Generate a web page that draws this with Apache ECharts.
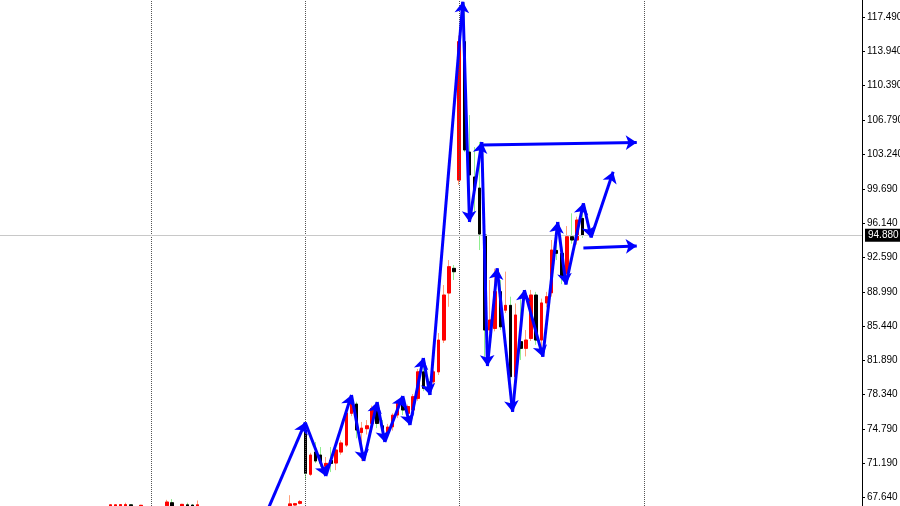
<!DOCTYPE html>
<html>
<head>
<meta charset="utf-8">
<title>ZigZag</title>
<script src="https://cdn.jsdelivr.net/npm/echarts@6.0.0/dist/echarts.min.js"></script>
<style>
  html, body { margin: 0; padding: 0; background: #fff; }
  #chartContainer { width: 900px; height: 506px; }
</style>
</head>
<body>
<div id="chartContainer"></div>
<script>
// bar slots on the x axis (one per candle position)
var barCount = 168;

// candles: slot index and OHLC
var barIndex = [21, 22, 23, 24, 25, 27, 32, 33, 35, 36, 37, 38,
  56, 57, 58, 59, 60, 61, 62, 63, 64, 65, 66, 67, 68, 69, 70, 71, 72, 73, 74, 75,
  76, 77, 78, 79, 80, 81, 82, 83, 84, 85, 86, 87, 88, 89, 90, 91, 92, 93, 94, 95,
  96, 97, 98, 99, 100, 101, 102, 103, 104, 105, 106, 107, 108, 109, 110, 111, 112, 113];
var opens = [66.70, 66.60, 66.70, 66.70, 66.90, 66.60, 66.80, 67.12, 66.60, 66.90, 66.88, 66.60,
  66.70, 66.88, 67.06, 74.66, 70.07, 72.38, 72.07, 70.90, 71.50, 71.24, 72.38, 73.10, 76.40, 77.36, 74.40, 74.80, 75.35, 77.07, 75.10, 74.30,
  75.00, 76.22, 77.43, 76.40, 76.74, 77.95, 80.70, 79.67, 79.67, 80.70, 84.00, 88.88, 91.44, 100.60, 114.96, 103.51, 100.92, 99.77, 94.90, 85.04,
  85.20, 89.02, 87.10, 87.60, 80.20, 83.83, 83.14, 84.17, 88.67, 84.00, 87.85, 88.90, 93.30, 93.00, 90.92, 94.72, 94.38, 96.62];
var closes = [66.90, 66.90, 66.92, 66.92, 66.80, 66.85, 67.19, 66.70, 66.95, 66.70, 66.70, 66.90,
  67.00, 67.02, 67.23, 70.17, 72.07, 71.45, 71.24, 71.20, 71.20, 72.59, 73.32, 76.43, 77.70, 74.66, 74.86, 75.10, 76.90, 75.35, 74.70, 74.97,
  76.20, 77.43, 76.74, 77.10, 78.12, 80.70, 78.99, 79.15, 80.70, 84.00, 88.67, 91.61, 91.09, 114.96, 103.72, 101.13, 99.57, 95.00, 85.04, 86.08,
  89.02, 85.37, 87.60, 80.20, 86.60, 83.14, 84.00, 88.67, 84.00, 87.85, 88.50, 93.34, 93.00, 90.50, 94.72, 94.38, 96.45, 94.88];
var lows = [66.50, 66.40, 66.50, 66.50, 66.50, 66.40, 66.60, 66.50, 66.40, 66.50, 66.50, 66.40,
  66.50, 66.80, 66.95, 69.47, 69.90, 71.24, 70.82, 69.89, 70.30, 70.50, 72.10, 72.90, 76.10, 73.80, 71.45, 74.20, 75.00, 74.86, 73.90, 73.90,
  74.60, 75.90, 76.22, 75.90, 76.20, 77.70, 78.70, 78.30, 79.20, 80.37, 83.69, 87.45, 90.23, 100.10, 103.50, 96.45, 97.18, 93.34, 81.93, 84.73,
  84.90, 85.04, 86.80, 76.90, 79.60, 81.93, 82.30, 83.90, 83.50, 82.27, 87.40, 88.50, 92.30, 89.80, 90.30, 94.00, 93.90, 94.60];
var highs = [66.95, 66.95, 66.98, 67.12, 66.95, 66.90, 67.42, 67.50, 67.00, 67.12, 66.95, 67.35,
  67.90, 67.10, 67.40, 75.20, 72.30, 73.42, 72.90, 71.86, 72.90, 72.90, 73.60, 76.80, 78.30, 77.60, 75.50, 75.70, 77.20, 77.60, 75.70, 75.30,
  76.40, 77.60, 78.12, 77.30, 78.40, 81.00, 81.62, 80.00, 80.90, 84.73, 89.71, 92.30, 91.79, 115.60, 119.00, 107.35, 104.03, 104.55, 95.20, 90.23,
  91.40, 90.23, 91.10, 88.50, 87.80, 88.50, 85.04, 89.20, 89.00, 88.30, 89.00, 94.38, 96.20, 93.70, 95.83, 97.15, 96.80, 98.10];

var lastPrice = 94.88;
var priceTicks = [67.64, 71.19, 74.79, 78.34, 81.89, 85.44, 88.99, 92.59, 96.14, 99.69, 103.24, 106.79, 110.39, 113.94, 117.49];
var separators = [29, 59, 89, 125];

// zigzag turning points (slot position, price)
var zigzagX = [50, 59, 63, 68, 70.4, 73, 74.5, 78, 79.4, 82, 83.3, 89.7, 91, 93.4, 94.5, 96.4, 99.4, 101.7, 105.3, 108.2, 109.8, 113.2, 114.7, 119];
var zigzagY = [64.3, 75.45, 69.89, 78.3, 71.45, 77.57, 73.42, 78.19, 75.18, 82.13, 78.3, 119.1, 96.25, 104.55, 81.3, 91.44, 76.56, 89.19, 82.27, 96.25, 89.76, 98.19, 94.64, 101.47];

// level arrows
var levelFromX = [93.4, 113.2];
var levelToX = [123.6, 123.6];
var levelFromY = [104.25, 93.55];
var levelToY = [104.5, 93.76];

var categories = [], candles = [], bodies = [];
for (var i = 0; i < barCount; i++) {
  categories.push(i);
  candles.push(['-', '-', '-', '-']);
  bodies.push(['-', '-', '-', '-']);
}
barIndex.forEach(function (k, n) {
  var o = opens[n], c = closes[n];
  candles[k] = [o, c, lows[n], highs[n]];
  bodies[k] = [o, c, Math.min(o, c), Math.max(o, c)];
});

var arrows = [];
for (i = 1; i < zigzagX.length; i++) {
  arrows.push({ coords: [[zigzagX[i - 1], zigzagY[i - 1]], [zigzagX[i], zigzagY[i]]] });
}
for (i = 0; i < levelFromX.length; i++) {
  arrows.push({ coords: [[levelFromX[i], levelFromY[i]], [levelToX[i], levelToY[i]]] });
}

var myChart = echarts.init(document.getElementById("chartContainer"));
myChart.setOption({
  animation: false,
  backgroundColor: '#ffffff',
  grid: { left: 0, right: 38, top: 0, bottom: 0, containLabel: false, outerBoundsMode: 'none' },
  xAxis: [
    { type: 'category', data: categories, show: false, boundaryGap: true },
    { type: 'value', min: -0.5, max: barCount - 0.5, show: false }
  ],
  yAxis: {
    type: 'value',
    position: 'right',
    min: 66.78,
    max: 119.285,
    splitLine: { show: false },
    axisLine: { show: true, onZero: false, lineStyle: { color: '#000', width: 1 } },
    axisTick: { show: true, customValues: priceTicks, length: 3, lineStyle: { color: '#000' } },
    axisLabel: {
      customValues: priceTicks,
      formatter: function (v) { return v.toFixed(3); },
      color: '#000',
      fontFamily: 'Liberation Sans',
      fontSize: 10,
      margin: 5
    }
  },
  series: [
    {
      // wicks (and body outline)
      type: 'candlestick',
      xAxisIndex: 0,
      data: candles,
      barWidth: 3,
      silent: true,
      itemStyle: { color: '#ff0000', color0: '#000000', borderColor: '#ffa07a', borderColor0: '#90ee90', borderWidth: 1 },
      markLine: {
        silent: true,
        symbol: ['none', 'none'],
        label: { show: false },
        lineStyle: { type: 'dotted', color: '#555', width: 1 },
        data: separators.map(function (k) { return { xAxis: k }; })
      }
    },
    {
      // solid bodies
      type: 'candlestick',
      xAxisIndex: 0,
      data: bodies,
      barWidth: 3,
      silent: true,
      itemStyle: { color: '#ff0000', color0: '#000000', borderColor: '#ff0000', borderColor0: '#000000', borderWidth: 1 },
      markLine: {
        silent: true,
        symbol: ['none', 'none'],
        lineStyle: { type: 'solid', color: '#c8c8c8', width: 1 },
        label: {
          show: true,
          position: 'end',
          formatter: lastPrice.toFixed(3),
          color: '#fff',
          backgroundColor: '#000',
          padding: [2, 3, 1, 3],
          fontSize: 10,
          fontFamily: 'Liberation Sans',
          distance: 3
        },
        data: [{ yAxis: lastPrice }]
      }
    },
    {
      type: 'lines',
      coordinateSystem: 'cartesian2d',
      xAxisIndex: 1,
      yAxisIndex: 0,
      symbol: ['none', 'arrow'],
      symbolSize: 11,
      silent: true,
      z: 5,
      lineStyle: { color: '#0000ff', width: 3, opacity: 1, curveness: 0 },
      data: arrows
    }
  ]
});
</script>
</body>
</html>
